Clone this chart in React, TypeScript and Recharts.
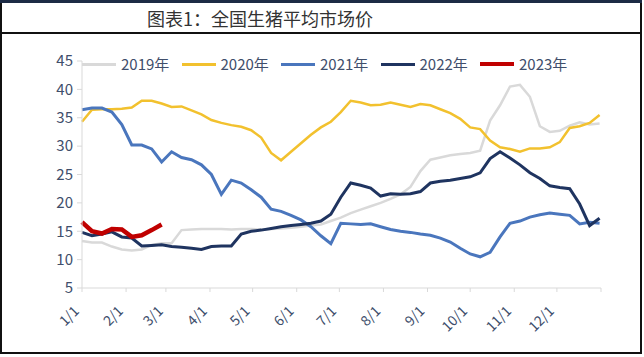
import React from 'react'
import { LineChart, Line, XAxis, YAxis, Legend } from 'recharts'

// day of year for each weekly sample
const DAYS = [0, 7, 14, 21, 28, 35, 42, 49, 56, 63, 70, 77, 84, 91, 98, 105, 112, 119, 126, 133, 140, 147, 154, 161, 168, 175, 182, 189, 196, 203, 210, 217, 224, 231, 238, 245, 252, 259, 266, 273, 280, 287, 294, 301, 308, 315, 322, 329, 336, 343, 350, 357, 364]

const Y2019 = [13.3, 13.0, 13.0, 12.3, 11.8, 11.6, 11.8, 12.6, 12.9, 12.9, 15.2, 15.3, 15.4, 15.4, 15.4, 15.3, 15.4, 15.4, 15.3, 15.4, 15.5, 15.6, 15.8, 16.0, 16.2, 16.8, 17.4, 18.2, 18.8, 19.4, 20.0, 20.7, 21.5, 22.8, 25.6, 27.6, 28.0, 28.4, 28.6, 28.8, 29.2, 34.5, 37.2, 40.5, 40.8, 38.7, 33.5, 32.5, 32.7, 33.6, 34.2, 33.8, 34.0]
const Y2020 = [34.3, 36.4, 36.5, 36.5, 36.6, 36.8, 38.0, 38.0, 37.5, 36.9, 37.0, 36.3, 35.6, 34.6, 34.1, 33.7, 33.4, 32.8, 31.5, 28.8, 27.5, 29.0, 30.5, 32.0, 33.3, 34.3, 36.0, 38.0, 37.7, 37.2, 37.3, 37.7, 37.3, 36.9, 37.4, 37.2, 36.5, 35.8, 34.8, 33.3, 33.0, 31.0, 29.8, 29.5, 29.0, 29.6, 29.6, 29.8, 30.7, 33.2, 33.5, 34.1, 35.5]
const Y2021 = [36.4, 36.7, 36.7, 36.0, 33.8, 30.2, 30.2, 29.5, 27.2, 29.0, 28.0, 27.6, 26.7, 25.0, 21.5, 24.0, 23.5, 22.3, 21.0, 18.9, 18.5, 17.8, 17.0, 15.8, 14.2, 12.8, 16.4, 16.3, 16.2, 16.3, 15.8, 15.3, 15.0, 14.8, 14.5, 14.3, 13.8, 13.1, 12.0, 11.0, 10.5, 11.3, 14.0, 16.4, 16.8, 17.5, 17.9, 18.2, 18.0, 17.8, 16.3, 16.6, 16.4]
const Y2022 = [14.8, 14.2, 14.5, 14.9, 14.0, 13.8, 12.4, 12.5, 12.6, 12.3, 12.2, 12.0, 11.8, 12.3, 12.4, 12.4, 14.5, 15.0, 15.2, 15.5, 15.8, 16.0, 16.2, 16.4, 16.8, 18.0, 21.0, 23.5, 23.1, 22.6, 21.2, 21.6, 21.5, 21.6, 22.0, 23.5, 23.8, 24.0, 24.3, 24.6, 25.3, 27.8, 29.0, 27.9, 26.7, 25.3, 24.3, 23.0, 22.7, 22.5, 19.8, 16.0, 17.3]
const Y2023 = [16.6, 15.0, 14.6, 15.4, 15.3, 14.0, 14.3, 15.2, 16.2]

const MONTH_TICKS = [0, 31, 59, 90, 120, 151, 181, 212, 243, 273, 304, 334, 365]
const MONTH_LABELS = ['1/1', '2/1', '3/1', '4/1', '5/1', '6/1', '7/1', '8/1', '9/1', '10/1', '11/1', '12/1', '']
const Y_TICKS = [5, 10, 15, 20, 25, 30, 35, 40, 45]

const SERIES = [
  { key: 'y2019', name: '2019年', color: '#d9d9d9', width: 2.5 },
  { key: 'y2020', name: '2020年', color: '#f2c12e', width: 2.5 },
  { key: 'y2021', name: '2021年', color: '#4a76bd', width: 3 },
  { key: 'y2022', name: '2022年', color: '#1f3460', width: 3 },
  { key: 'y2023', name: '2023年', color: '#c00000', width: 4.5 },
]

const data = DAYS.map((d, i) => ({
  day: d,
  y2019: Y2019[i],
  y2020: Y2020[i],
  y2021: Y2021[i],
  y2022: Y2022[i],
  y2023: Y2023[i],
}))

const TEXT = '#404e6b'
const FONT = '"Noto Sans CJK SC", "Noto Sans", sans-serif'

const XTick = (props: any) => {
  const { x, y, payload } = props
  const idx = MONTH_TICKS.indexOf(payload.value)
  const label = MONTH_LABELS[idx]
  if (!label) return null
  const ax = x - 2
  const ay = y + 18
  return (
    <text x={ax} y={ay} textAnchor="end" fill={TEXT} fontSize={14} fontFamily={FONT}
      transform={`rotate(-45 ${ax} ${ay})`}>
      {label}
    </text>
  )
}

const renderLegend = () => (
  <div style={{ position: 'relative', width: 520, height: 22 }}>
    {SERIES.map((s, i) => (
      <div key={s.key} style={{ position: 'absolute', left: i * 99.5, top: 0, height: 22, display: 'flex', alignItems: 'center', whiteSpace: 'nowrap' }}>
        <span style={{ display: 'inline-block', width: 34, height: s.key === 'y2023' ? 4 : 3, background: s.color }} />
        <span style={{ marginLeft: 5, fontSize: 15, color: TEXT, fontFamily: FONT, lineHeight: '22px' }}>{s.name}</span>
      </div>
    ))}
  </div>
)

const line = (left: number, top: number, width: number, height: number, color = '#111') => (
  <div style={{ position: 'absolute', left, top, width, height, background: color }} />
)

export default function App() {
  return (
    <>
      <style>{'body{margin:0}'}</style>
      <div style={{ position: 'relative', width: 644, height: 357, background: '#fff', overflow: 'hidden' }}>
        {line(0, 0, 642, 3, '#1c2b45')}
        {line(0, 3, 2, 351)}
        {line(640, 3, 2, 351)}
        {line(0, 32, 642, 2)}
        {line(0, 352, 642, 2)}
        <div style={{ position: 'absolute', left: 147, top: 5, fontSize: 18, lineHeight: '26px', color: '#333', fontFamily: FONT, whiteSpace: 'nowrap' }}>
          图表1：全国生猪平均市场价
        </div>
        <div style={{ position: 'absolute', left: 0, top: 0 }}>
          <LineChart width={644} height={357} data={data} margin={{ top: 61, right: 43, bottom: 19, left: 0 }}>
            <XAxis
              dataKey="day"
              type="number"
              domain={[0, 365]}
              ticks={MONTH_TICKS}
              interval={0}
              tick={<XTick />}
              tickSize={4}
              height={50}
              stroke="#d9d9d9"
              tickLine={{ stroke: '#d9d9d9' }}
            />
            <YAxis
              type="number"
              domain={[5, 45]}
              ticks={Y_TICKS}
              interval={0}
              width={82}
              tickSize={5}
              tickMargin={4}
              stroke="#d9d9d9"
              tick={{ fill: TEXT, fontSize: 15, fontFamily: FONT }}
            />
            <Legend
              layout="vertical"
              verticalAlign="middle"
              align="center"
              content={renderLegend}
              wrapperStyle={{ position: 'absolute', top: 53, left: 82, width: 520, height: 22 }}
            />
            {SERIES.map(s => (
              <Line
                key={s.key}
                dataKey={s.key}
                name={s.name}
                type="linear"
                stroke={s.color}
                strokeWidth={s.width}
                dot={false}
                activeDot={false}
                isAnimationActive={false}
              />
            ))}
          </LineChart>
        </div>
      </div>
    </>
  )
}
